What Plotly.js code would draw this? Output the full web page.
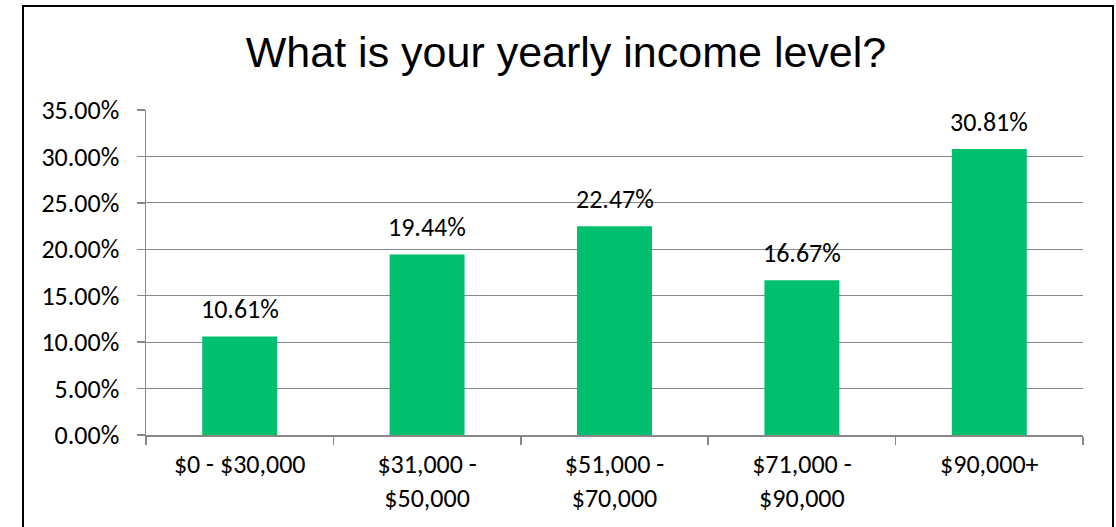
<!DOCTYPE html>
<html>
<head>
<meta charset="utf-8">
<script src="https://cdn.plot.ly/plotly-3.0.1.min.js"></script>
<style>
  html, body { margin: 0; padding: 0; background: #fff; }
  #wrap { position: relative; width: 1116px; height: 527px; overflow: hidden; }
  #chart { position: absolute; left: 0; top: 0; width: 1116px; height: 527px; }
  #frame { position: absolute; left: 22px; top: 5px; width: 1088px; height: 600px;
           border: 2px solid #000; pointer-events: none; }
</style>
</head>
<body>
<div id="wrap">
  <div id="chart"></div>
  <div id="frame"></div>
</div>
<script>
const chartTitle = "What is your yearly income level?";
const categories = ["$0 - $30,000", "$31,000 - $50,000", "$51,000 - $70,000", "$71,000 - $90,000", "$90,000+"];
const tickLabels = ["$0 - $30,000", "$31,000 -<br>$50,000", "$51,000 -<br>$70,000", "$71,000 -<br>$90,000", "$90,000+"];
const values = [0.1061, 0.1944, 0.2247, 0.1667, 0.3081];
const yTickVals = [0, 0.05, 0.10, 0.15, 0.20, 0.25, 0.30, 0.35];

const labelFont = "Carlito, Calibri, Lato, sans-serif";
const gridColor = "#878787";

const trace = {
  type: "bar",
  x: categories,
  y: values,
  marker: { color: "#00BF6F", line: { width: 0 } },
  hoverinfo: "skip"
};

const annotations = categories.map((c, i) => ({
  x: c, y: values[i], xref: "x", yref: "y",
  text: (values[i] * 100).toFixed(2) + "%",
  showarrow: false, yanchor: "middle", yshift: 27,
  font: { family: labelFont, size: 26, color: "#000" }
}));

const layout = {
  width: 1116, height: 527,
  margin: { l: 146, r: 33, t: 110, b: 92 },
  paper_bgcolor: "#fff", plot_bgcolor: "#fff",
  showlegend: false,
  bargap: 0.6,
  title: {
    text: chartTitle,
    xref: "container", yref: "container",
    x: 566 / 1116, xanchor: "center",
    y: 1 - 52 / 527, yanchor: "middle",
    font: { family: "Liberation Sans Narrow, Arial Narrow, Liberation Sans, Arial, sans-serif", size: 43, color: "#000" }
  },
  xaxis: {
    type: "category",
    tickmode: "array",
    tickvals: categories,
    ticktext: tickLabels,
    tickson: "boundaries",
    ticks: "outside", ticklen: 8, tickwidth: 1.5, tickcolor: gridColor,
    ticklabelstandoff: 5,
    showline: true, linecolor: gridColor, linewidth: 1.5,
    showgrid: false, zeroline: false,
    tickfont: { family: labelFont, size: 26, color: "#000" },
    fixedrange: true
  },
  yaxis: {
    range: [0, 0.35],
    tickmode: "array",
    tickvals: yTickVals,
    tickformat: ".2%",
    ticks: "outside", ticklen: 8, tickwidth: 1.5, tickcolor: gridColor,
    ticklabelstandoff: 12,
    showline: true, linecolor: gridColor, linewidth: 1.5,
    showgrid: true, gridcolor: gridColor, gridwidth: 1,
    zeroline: false,
    tickfont: { family: labelFont, size: 26, color: "#000" },
    fixedrange: true
  },
  annotations: annotations
};

Plotly.newPlot("chart", [trace], layout, { staticPlot: true, displayModeBar: false });
</script>
</body>
</html>
